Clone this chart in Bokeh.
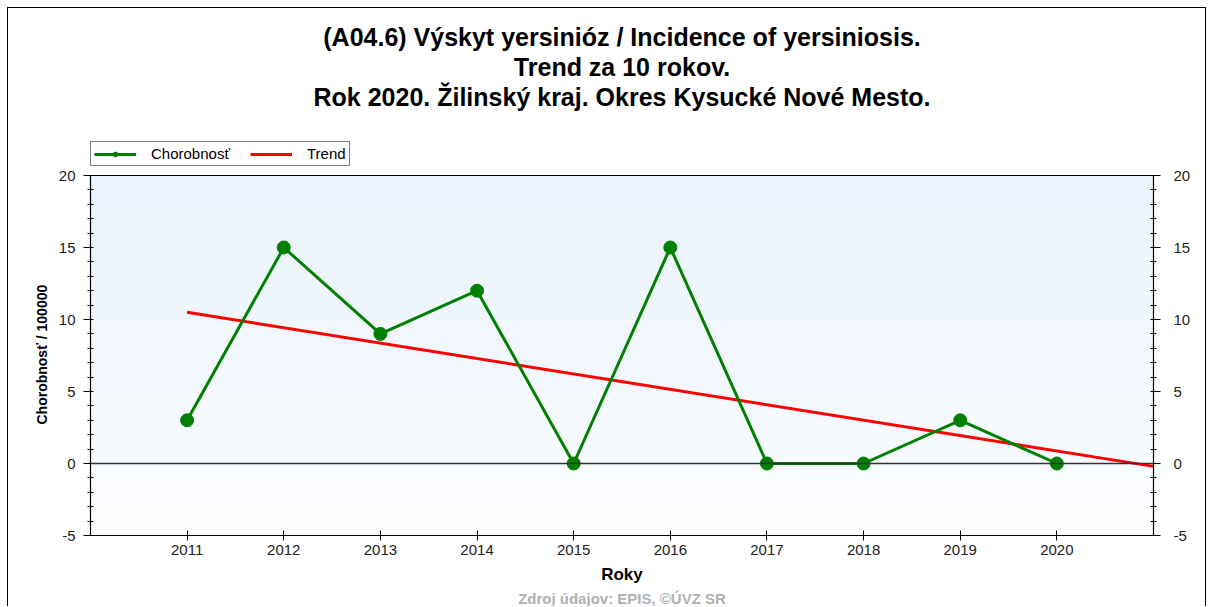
import numpy as np
from bokeh.plotting import figure
from bokeh.models import (LinearAxis, Range1d, FixedTicker, Span, Legend,
                          LegendItem, Title)
from bokeh.embed import file_html
from bokeh.resources import INLINE

# ---------------- data ----------------
years = [2011, 2012, 2013, 2014, 2015, 2016, 2017, 2018, 2019, 2020]
incidence = [3, 15, 9, 12, 0, 15, 0, 0, 3, 0]
trend_years = [2011, 2021]
trend_values = [10.5, -0.2]
y_ticks = [-5, 0, 5, 10, 15, 20]
x_range_ends = [2010, 2021]
series_names = ["Chorobnosť", "Trend"]
title_lines = [
    "(A04.6) Výskyt yersinióz / Incidence of yersiniosis.",
    "Trend za 10 rokov.",
    "Rok 2020. Žilinský kraj. Okres Kysucké Nové Mesto.",
]
x_label = "Roky"
y_label = "Chorobnosť / 100000"
source_note = "Zdroj údajov: EPIS, ©ÚVZ SR"

FONT = "Liberation Sans"
GREEN = "#008000"
RED = "#FF0000"

# layout (pixels): the frame reaches up to hold the legend; the value axis
# only spans y_ticks[0]..y_ticks[-1] (360 px) at its bottom
FRAME_PX = 425
DATA_PX = 360
y_top = y_ticks[0] + (y_ticks[-1] - y_ticks[0]) * FRAME_PX / DATA_PX

p = figure(width=1199, height=599,
           x_range=Range1d(*x_range_ends), y_range=Range1d(y_ticks[0], y_top),
           output_backend="svg", toolbar_location=None,
           x_axis_location=None, y_axis_location=None,
           min_border_left=82, min_border_right=54,
           min_border_top=102, min_border_bottom=72)
p.styles = {"margin-left": "7px", "margin-top": "7px",
            "border-top": "1px solid black", "border-left": "1px solid black",
            "border-right": "1px solid black"}
p.grid.visible = False
p.outline_line_color = None
p.background_fill_color = "white"
p.border_fill_color = "white"

# gradient plot-area background (value area only)
n = 200
top_c = np.array([233, 243, 253], dtype=float)
bot_c = np.array([252, 253, 255], dtype=float)
t = np.linspace(0.0, 1.0, n)[:, None]
rgb = bot_c + (top_c - bot_c) * t
img = np.empty((n, 2), dtype=np.uint32)
view = img.view(dtype=np.uint8).reshape((n, 2, 4))
for k in range(3):
    view[:, :, k] = rgb[:, k][:, None].astype(np.uint8)
view[:, :, 3] = 255
p.image_rgba(image=[img], x=x_range_ends[0], y=y_ticks[0],
             dw=x_range_ends[1] - x_range_ends[0], dh=y_ticks[-1] - y_ticks[0])

p.add_layout(Span(location=y_ticks[-1], dimension="width", line_color="black", line_width=1.2))
p.add_layout(Span(location=0, dimension="width", line_color="#333333", line_width=1.5))

r_trend = p.line(trend_years, trend_values, line_color=RED, line_width=3)
r_line = p.line(years, incidence, line_color=GREEN, line_width=3)
r_pts = p.scatter(years, incidence, size=13, fill_color=GREEN, line_color=GREEN)

minor = list(range(y_ticks[0], y_ticks[-1] + 1))
y_label_map = {v: str(v) for v in y_ticks}


def style_axis(ax):
    ax.axis_line_color = "black"
    ax.axis_line_width = 1.2
    ax.major_tick_line_color = "black"
    ax.minor_tick_line_color = "black"
    ax.major_label_text_font = FONT
    ax.major_label_text_font_size = "15px"
    ax.major_label_text_color = "#222222"
    ax.axis_label_text_font = FONT
    ax.axis_label_text_font_style = "bold"
    ax.axis_label_text_color = "black"


left = LinearAxis(ticker=FixedTicker(ticks=y_ticks, minor_ticks=minor),
                  bounds=(y_ticks[0], y_ticks[-1]), major_label_overrides=y_label_map)
style_axis(left)
left.major_tick_out = 7
left.major_tick_in = 2
left.minor_tick_out = 3
left.minor_tick_in = 3
left.major_label_standoff = 8
p.add_layout(left, "left")

# y-axis title centred on the value area (not the taller frame)
p.add_layout(Title(text=y_label, align="left", offset=111, standoff=12,
                   text_font=FONT, text_font_size="14px", text_font_style="bold",
                   text_color="black"), "left")

right = LinearAxis(ticker=FixedTicker(ticks=y_ticks, minor_ticks=minor),
                   bounds=(y_ticks[0], y_ticks[-1]), major_label_overrides=y_label_map)
style_axis(right)
right.major_tick_out = 7
right.major_tick_in = 2
right.minor_tick_out = 3
right.minor_tick_in = 3
right.major_label_standoff = 13
p.add_layout(right, "right")

bottom = LinearAxis(ticker=FixedTicker(ticks=years, minor_ticks=[]), axis_label=x_label)
style_axis(bottom)
bottom.major_tick_out = 5
bottom.major_tick_in = 5
bottom.major_label_standoff = 4
bottom.axis_label_text_font_size = "17px"
bottom.axis_label_standoff = 7
p.add_layout(bottom, "below")

legend = Legend(items=[LegendItem(label=series_names[0], renderers=[r_line, r_pts]),
                       LegendItem(label=series_names[1], renderers=[r_trend])],
                orientation="horizontal", location=(0, 369),
                border_line_color="black", border_line_width=1,
                background_fill_color="white", background_fill_alpha=1,
                label_text_font=FONT, label_text_font_size="15px",
                label_text_color="black",
                glyph_width=42, glyph_height=12, label_standoff=15,
                spacing=20, padding=3, margin=0)
p.add_layout(legend)

for line in reversed(title_lines):
    p.add_layout(Title(text=line, align="center", text_font=FONT,
                       text_font_size="25px", text_font_style="bold",
                       text_color="black", standoff=0, offset=-7), "above")

p.add_layout(Title(text=source_note, align="center", text_font=FONT,
                   text_font_size="15px", text_font_style="bold",
                   text_color="#B0B0B0", standoff=2, offset=-4), "below")

open("out.html", "w").write(file_html(p, INLINE))
